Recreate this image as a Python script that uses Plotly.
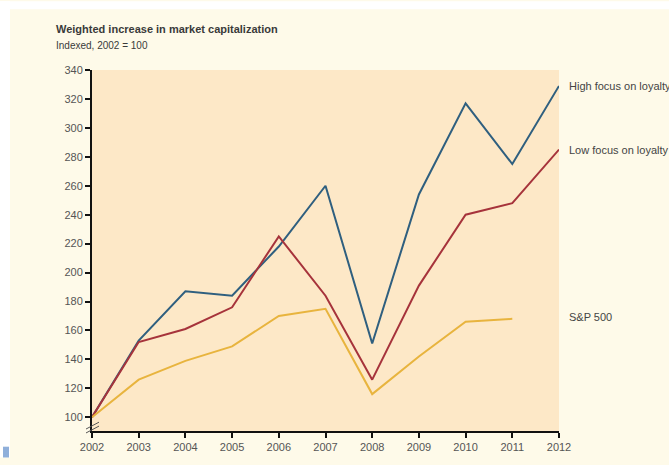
import plotly.graph_objects as go

years = list(range(2002, 2013))
high_focus = [100, 153, 187, 184, 218, 260, 151, 254, 317, 275, 329]
low_focus = [100, 152, 161, 176, 225, 184, 126, 191, 240, 248, 285]
sp500 = [100, 126, 139, 149, 170, 175, 116, 142, 166, 168]
y_ticks = list(range(100, 341, 20))

FONT = "Liberation Sans Narrow, Arial Narrow, Liberation Sans, Arial"
L, R, T, B = 92, 110, 70, 27
W, H = 669, 465
PW, PH = W - L - R, H - T - B


def px(x):
    return (x - L) / PW


def py(y):
    return (H - B - y) / PH


fig = go.Figure()
fig.add_trace(go.Scatter(x=years, y=high_focus, mode="lines", line=dict(color="#2F5F7F", width=2), name="High focus on loyalty"))
fig.add_trace(go.Scatter(x=years, y=low_focus, mode="lines", line=dict(color="#A6333B", width=2), name="Low focus on loyalty"))
fig.add_trace(go.Scatter(x=years[:len(sp500)], y=sp500, mode="lines", line=dict(color="#E8B43E", width=2), name="S&P 500"))

labels = [("High focus on loyalty", high_focus[-1]), ("Low focus on loyalty", low_focus[-1]), ("S&P 500", sp500[-1] + 1)]
for text, yv in labels:
    fig.add_annotation(x=1, xref="paper", xshift=8, y=yv, yref="y", text=text, showarrow=False,
                       xanchor="left", yanchor="middle", font=dict(family=FONT, size=11, color="#444"))

fig.add_annotation(x=px(54), xref="paper", y=py(28), yref="paper", text="<b>Weighted increase in market capitalization</b>",
                   showarrow=False, xanchor="left", yanchor="middle", font=dict(family=FONT, size=11, color="#3a3a3a"))
fig.add_annotation(x=px(54), xref="paper", y=py(45), yref="paper", text="Indexed, 2002 = 100",
                   showarrow=False, xanchor="left", yanchor="middle", font=dict(family=FONT, size=10, color="#3a3a3a"))

# white border strips and small blue mark at left
fig.add_shape(type="rect", xref="paper", yref="paper", x0=px(0), x1=px(10), y0=py(H), y1=py(0),
              line=dict(width=0), fillcolor="#FFFFFF", layer="below")
fig.add_shape(type="rect", xref="paper", yref="paper", x0=px(0), x1=px(W), y0=py(8), y1=py(0),
              line=dict(width=0), fillcolor="#FFFFFF", layer="below")
fig.add_shape(type="rect", xref="paper", yref="paper", x0=px(3), x1=px(9), y0=py(H), y1=py(454),
              line=dict(width=0), fillcolor="#8FAFDA", layer="below")

# axis break marks
for dy in (0, 4):
    fig.add_shape(type="line", xref="paper", yref="paper", x0=px(86), x1=px(99), y0=py(440 - dy), y1=py(433 - dy),
                  line=dict(color="#555", width=1))

fig.update_layout(
    width=W, height=H,
    margin=dict(l=L, r=R, t=T, b=B),
    paper_bgcolor="#FEFAE9",
    plot_bgcolor="#FDE8C7",
    showlegend=False,
    font=dict(family=FONT, size=11, color="#555"),
    xaxis=dict(range=[2002, 2012], tickmode="array", tickvals=years, ticks="outside", ticklen=5, tickwidth=2,
               tickcolor="#111", showline=True, linecolor="#111", linewidth=2, showgrid=False, zeroline=False,
               tickfont=dict(family=FONT, size=11, color="#555")),
    yaxis=dict(range=[90.5, 340], tickmode="array", tickvals=y_ticks, ticks="outside", ticklen=5, tickwidth=2,
               tickcolor="#111", showline=True, linecolor="#111", linewidth=2, showgrid=False, zeroline=False,
               tickfont=dict(family=FONT, size=11, color="#555")),
)
fig.write_html("out.html")
